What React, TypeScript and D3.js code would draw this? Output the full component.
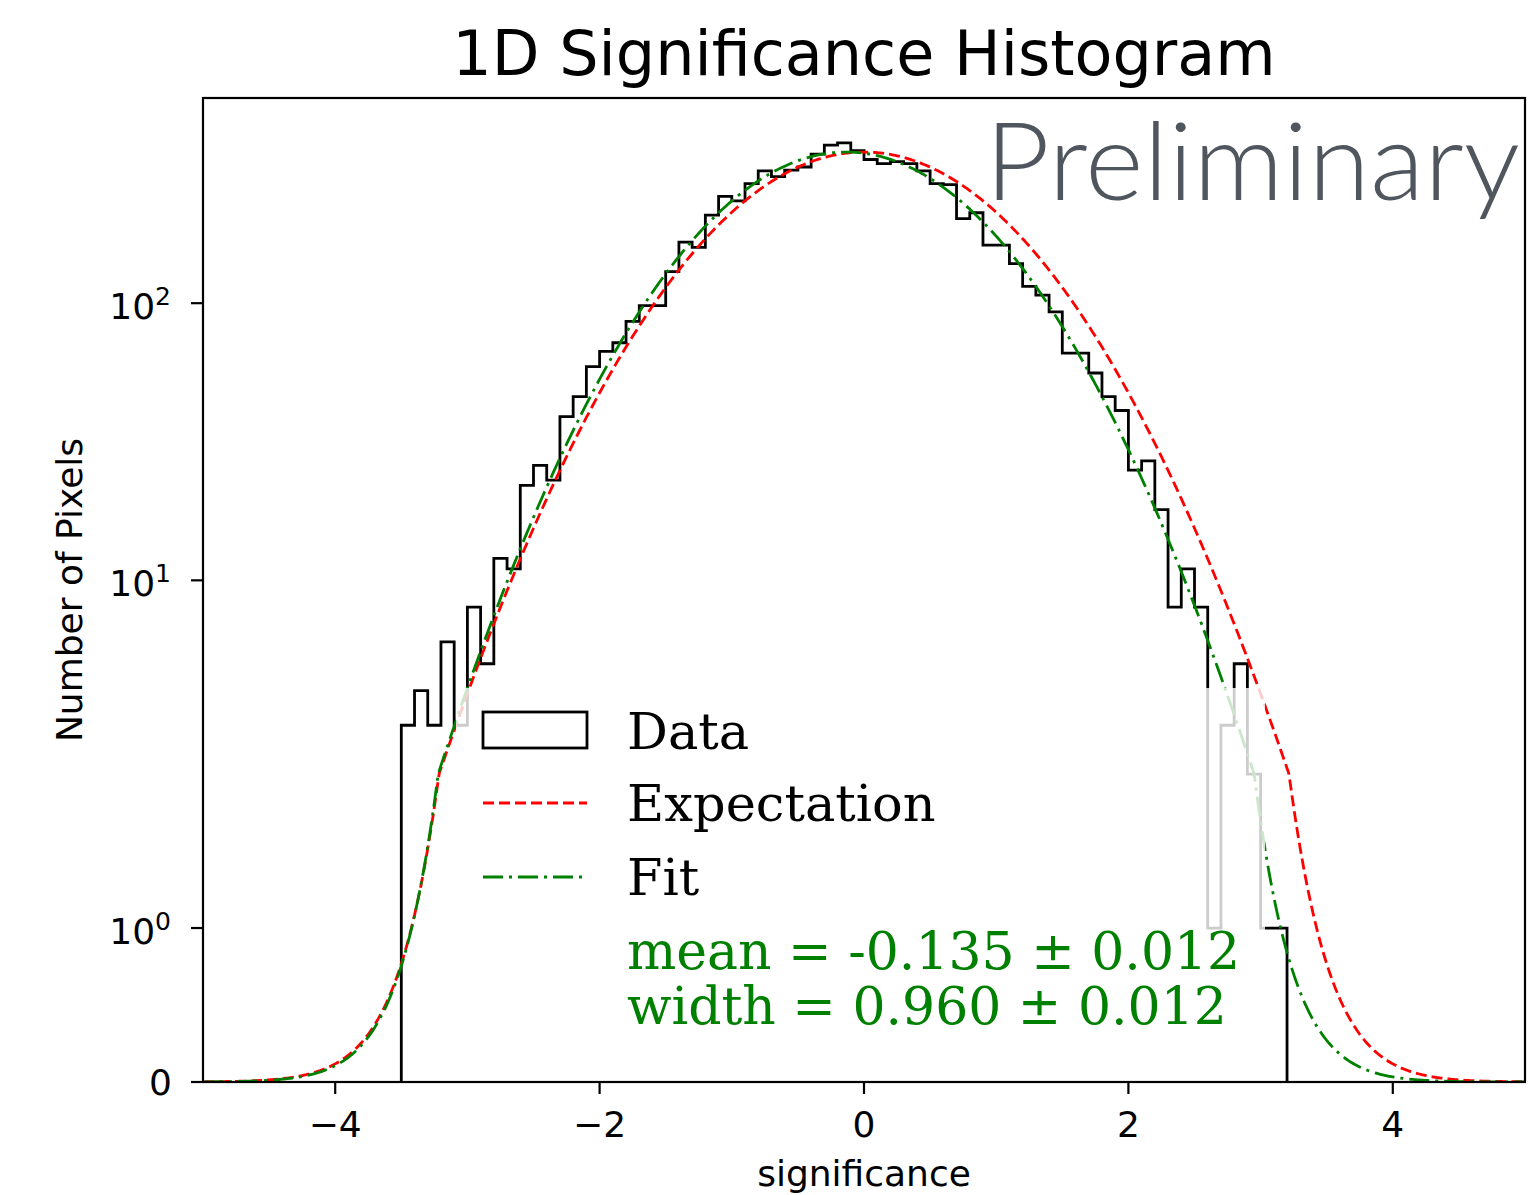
import React from "react";
import * as d3 from "d3";

// ---- data ----
const binStart = -3.5;
const binWidth = 0.1;
const counts = [
  3, 4, 3, 6, 3, 8, 5, 12, 11, 22, 26, 23, 39, 46, 59, 67, 72, 86, 98, 98,
  130, 166, 159, 208, 243, 234, 270, 300, 286, 302, 310, 345, 372, 379, 355,
  330, 319, 324, 319, 300, 270, 268, 202, 212, 162, 162, 139, 115, 107, 93,
  66, 66, 56, 46, 41, 25, 27, 18, 8, 11, 8, 1, 3, 5, 2, 1, 1,
];
const fitMean = -0.135;
const fitWidth = 0.96;
const fitAmp = 351;
const expMean = 0;
const expWidth = 1;
const expAmp = 351;
const xTicks = [-4, -2, 0, 2, 4];
const yTicks = [0, 1, 10, 100];
const legendLabels = ["Data", "Expectation", "Fit"];
const statLines = ["mean = -0.135 \u00b1 0.012", "width = 0.960 \u00b1 0.012"];

// ---- layout ----
const W = 1531;
const H = 1195;
const L = 203;
const R = 1525;
const T = 98;
const B = 1082;

// symlog transform (linthresh 2, linscale 1, base 10)
const LINTHRESH = 2;
const LINSCALE_ADJ = 1 / (1 - 1 / 10);
function symlog(v: number) {
  const a = Math.abs(v);
  const t =
    a <= LINTHRESH
      ? a * LINSCALE_ADJ
      : LINTHRESH * (LINSCALE_ADJ + Math.log10(a / LINTHRESH));
  return Math.sign(v) * t;
}
const Y_MAX = 550;

export default function App() {
  const x = d3.scaleLinear().domain([-5, 5]).range([L, R]);
  const yl = d3.scaleLinear().domain([0, symlog(Y_MAX)]).range([B, T]);
  const y = (v: number) => yl(symlog(v));

  // histogram step outline
  const pts: [number, number][] = [];
  pts.push([x(binStart), y(0)]);
  counts.forEach((c, i) => {
    const e0 = binStart + i * binWidth;
    const e1 = binStart + (i + 1) * binWidth;
    pts.push([x(e0), y(c)]);
    pts.push([x(e1), y(c)]);
  });
  pts.push([x(binStart + counts.length * binWidth), y(0)]);
  const line = d3.line();
  const histPath = line(pts) || "";

  const gauss = (amp: number, mu: number, s: number) => {
    const xs = d3.range(0, 801).map((i) => -5 + (i * 10) / 800);
    return (
      line(
        xs.map((v) => [x(v), y(amp * Math.exp(-((v - mu) ** 2) / (2 * s * s)))])
      ) || ""
    );
  };
  const expPath = gauss(expAmp, expMean, expWidth);
  const fitPath = gauss(fitAmp, fitMean, fitWidth);

  const axisFont = "DejaVu Sans, sans-serif";
  const serif = "DejaVu Serif, serif";
  const red = "#ff0000";
  const green = "#008000";
  const lw = 2.8;
  const redDash = "11 5";
  const greenDash = "20 6 3 6";

  return (
    <svg
      width={W}
      height={H}
      style={{ position: "absolute", left: 0, top: 0, background: "#fff" }}
    >
      <defs>
        <clipPath id="plotclip">
          <rect x={L} y={T} width={R - L} height={B - T} />
        </clipPath>
      </defs>
      <rect x={0} y={0} width={W} height={H} fill="#fff" />

      {/* title */}
      <text
        x={864}
        y={75}
        textAnchor="middle"
        fontFamily={axisFont}
        fontSize={62}
        fill="#000"
      >
        1D Significance Histogram
      </text>

      <g clipPath="url(#plotclip)">
        <path
          d={histPath}
          fill="none"
          stroke="#000"
          strokeWidth={lw}
          strokeLinejoin="miter"
        />
        <path
          d={expPath}
          fill="none"
          stroke={red}
          strokeWidth={lw}
          strokeDasharray={redDash}
        />
        <path
          d={fitPath}
          fill="none"
          stroke={green}
          strokeWidth={lw}
          strokeDasharray={greenDash}
        />
      </g>

      {/* legend */}
      <rect
        x={456}
        y={688}
        width={809}
        height={352}
        rx={6}
        fill="#fff"
        fillOpacity={0.8}
      />
      <rect
        x={483}
        y={712}
        width={104}
        height={36}
        fill="none"
        stroke="#000"
        strokeWidth={lw}
      />
      <line
        x1={483}
        x2={587}
        y1={803}
        y2={803}
        stroke={red}
        strokeWidth={lw}
        strokeDasharray={redDash}
      />
      <line
        x1={483}
        x2={587}
        y1={877}
        y2={877}
        stroke={green}
        strokeWidth={lw}
        strokeDasharray={greenDash}
      />
      {legendLabels.map((lab, i) => (
        <text
          key={lab}
          x={627}
          y={[749, 821, 895][i]}
          fontFamily={serif}
          fontSize={51}
          fill="#000"
        >
          {lab}
        </text>
      ))}
      {statLines.map((s, i) => (
        <text
          key={s}
          x={627}
          y={[969, 1024][i]}
          fontFamily={serif}
          fontSize={52}
          fill={green}
        >
          {s}
        </text>
      ))}

      {/* frame */}
      <rect
        x={L}
        y={T}
        width={R - L}
        height={B - T}
        fill="none"
        stroke="#000"
        strokeWidth={2.2}
      />

      {/* x ticks */}
      {xTicks.map((t) => (
        <g key={t}>
          <line x1={x(t)} x2={x(t)} y1={B} y2={B + 12} stroke="#000" strokeWidth={2.2} />
          <text
            x={x(t)}
            y={1137}
            textAnchor="middle"
            fontFamily={axisFont}
            fontSize={36}
            fill="#000"
          >
            {t < 0 ? "\u2212" + Math.abs(t) : String(t)}
          </text>
        </g>
      ))}
      <text
        x={864}
        y={1186}
        textAnchor="middle"
        fontFamily={axisFont}
        fontSize={36}
        fill="#000"
      >
        significance
      </text>

      {/* y ticks */}
      {yTicks.map((t) => (
        <g key={t}>
          <line x1={L - 12} x2={L} y1={y(t)} y2={y(t)} stroke="#000" strokeWidth={2.2} />
          {t === 0 ? (
            <text
              x={172}
              y={y(t) + 13}
              textAnchor="end"
              fontFamily={axisFont}
              fontSize={36}
              fill="#000"
            >
              0
            </text>
          ) : (
            <text
              x={171}
              y={y(t) + 16}
              textAnchor="end"
              fontFamily={axisFont}
              fontSize={36}
              fill="#000"
            >
              10
              <tspan fontSize={25} dy={-14}>
                {String(Math.round(Math.log10(t)))}
              </tspan>
            </text>
          )}
        </g>
      ))}
      <text
        transform={`translate(82, 590) rotate(-90)`}
        textAnchor="middle"
        fontFamily={axisFont}
        fontSize={36}
        fill="#000"
      >
        Number of Pixels
      </text>

      {/* watermark */}
      <text
        x={985}
        y={200}
        fontFamily="Lato, 'Open Sans', sans-serif"
        fontWeight={300}
        fontSize={108}
        fill="#50565e"
        textLength={535}
        lengthAdjust="spacingAndGlyphs"
      >
        Preliminary
      </text>
    </svg>
  );
}
